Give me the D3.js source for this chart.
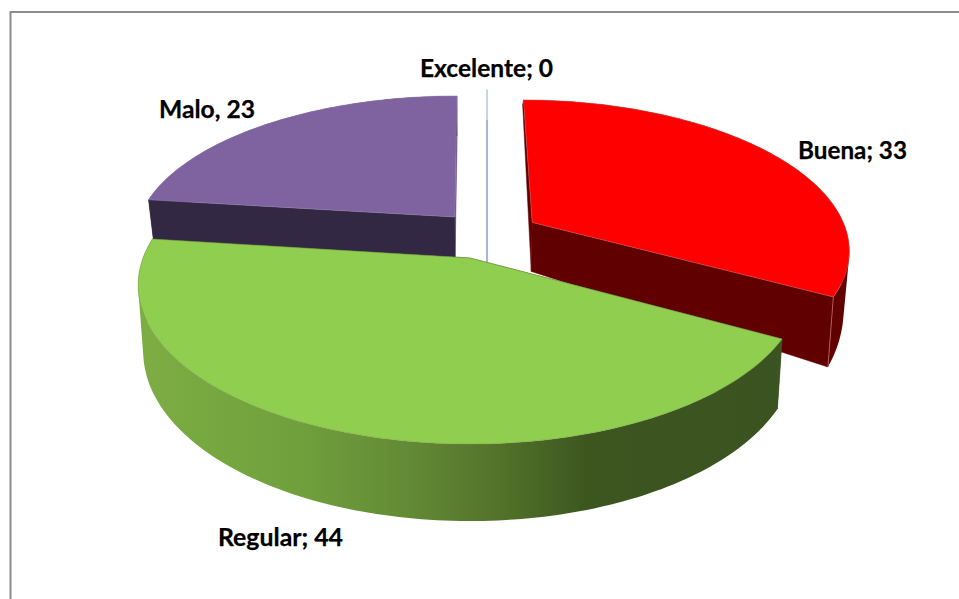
<!DOCTYPE html>
<html><head><meta charset="utf-8">
<style>html,body{margin:0;padding:0;background:#fff;overflow:hidden}svg{display:block}</style>
<script src="https://cdn.jsdelivr.net/npm/d3@7/dist/d3.min.js"></script>
</head><body>
<script>
// ---- data
const categories = ["Excelente","Buena","Regular","Malo"];
const values = [0,33,44,23];
const separators = ["; ","; ","; ",", "];

// ---- styles
const topColors = ["#a4b8d0","#ff0000","#8fce4f","#7f62a0"];
const wallColors = ["#a4b8d0","#610000","#3b5320","#332843"];
const sliverColors = ["#a4b8d0","#610000","#3b5320","#5f4a7e"];
const rimColors = ["#a4b8d0","#c06a6a","#7f9a4a","#9a8ab5"];

// ---- layout / projection (perspective view of a tilted disc)
const W=959,H=599;
const apexX=470, apexY=258, scaleX=327, scaleY=154.4, persp=0.17, shrink=0.985;
// per-slice displacement on the disc plane, width factor, and wall height (base + slope * depth on plane)
const offX=[0.064,0.2,0,-0.048], offY=[0.34,0.24,0,0.278];
const widthK=[1,0.99,1,1.01];
const wallBase=[70,59.5,63.5,40], wallSlope=[0,43.6,13.5,0];
const labelX=[420,798,218,159], labelY=[77,159,546,118], labelW=[133,109,125,96];

const svg=d3.select("body").append("svg").attr("width",W).attr("height",H);

const defs=svg.append("defs");
const grad=defs.append("linearGradient").attr("id","greenWall")
  .attr("gradientUnits","userSpaceOnUse").attr("x1",138).attr("x2",780).attr("y1",0).attr("y2",0);
[[0,"#7dad43"],[0.25,"#70a03c"],[0.42,"#638a36"],[0.56,"#527329"],[0.7,"#3d5620"],[1,"#3b5320"]]
  .forEach(s=>grad.append("stop").attr("offset",s[0]).attr("stop-color",s[1]));

// frame (only left and top edges fall inside the photo)
svg.append("path").attr("d",`M10.5,${H}V12H${W}`).attr("fill","none").attr("stroke","#8c8c8c").attr("stroke-width",2);

const pie=d3.pie().sort(null).value(d=>d)(values);

function project(i,X,Y){
  const wx=X+offX[i], wy=Y+offY[i], w=1+persp*wy;
  return [apexX+scaleX*widthK[i]*wx/w, apexY-scaleY*wy/w, wy];
}
function facePoint(i,a,r=1){ return project(i,r*Math.sin(a),r*Math.cos(a)); }
function low(p,i){
  return [apexX+(p[0]-apexX)*shrink, p[1]+wallBase[i]-wallSlope[i]*p[2]];
}
const line=d3.line();
function arcPts(i,a0,a1){
  const n=Math.max(2,Math.ceil(Math.abs(a1-a0)/0.02));
  return d3.range(n+1).map(k=>facePoint(i,a0+(a1-a0)*k/n));
}

const order=[0,3,1,2];
order.forEach(i=>{
  const s=pie[i], g=svg.append("g").attr("class","slice").datum(s);
  const apex=facePoint(i,0,0);
  if(s.endAngle-s.startAngle===0){
    // zero-valued slice: only a thin vertical sliver remains
    const t=facePoint(i,s.startAngle), lowY=low(apex,i)[1];
    g.append("path").attr("d",line([[t[0],t[1]],[t[0],t[1]+30]]))
      .attr("stroke","#c6d3e2").attr("stroke-width",2).attr("fill","none");
    g.append("path").attr("d",line([[t[0],t[1]+30],[t[0],lowY]]))
      .attr("stroke",topColors[i]).attr("stroke-width",2).attr("fill","none");
    return;
  }
  const arc=arcPts(i,s.startAngle,s.endAngle);
  const aLow=low(apex,i);
  const startP=facePoint(i,s.startAngle), endP=facePoint(i,s.endAngle);
  // radial walls: the one seen from the front is dark, the back one keeps a lighter sliver colour
  const startColor=i===3?wallColors[i]:sliverColors[i];
  const endColor=i===3?sliverColors[i]:wallColors[i];
  g.append("path").attr("d",line([[apex[0],apex[1]],[endP[0],endP[1]],low(endP,i),aLow])+"Z")
    .attr("fill",endColor).attr("stroke",endColor).attr("stroke-width",0.5);
  g.append("path").attr("d",line([[apex[0],apex[1]],[startP[0],startP[1]],low(startP,i),aLow])+"Z")
    .attr("fill",startColor).attr("stroke",startColor).attr("stroke-width",0.5);
  // outer wall: consistently wound strips in one path, so the fill is their seamless union
  const wallFill=i===2?"url(#greenWall)":wallColors[i];
  const stripPath=d3.pairs(arc).map(([a,b])=>{
    const q=[[a[0],a[1]],[b[0],b[1]],low(b,i),low(a,i)];
    if(d3.polygonArea(q)<0) q.reverse();
    return line(q)+"Z";
  }).join("");
  g.append("path").attr("d",stripPath).attr("fill",wallFill).attr("fill-rule","nonzero");
  // corner edge between walls
  if(i===1){
    g.append("path").attr("d",line([[endP[0],endP[1]],low(endP,i)]))
      .attr("stroke",rimColors[i]).attr("stroke-width",0.8).attr("fill","none");
  }
  // top face
  const face=[[apex[0],apex[1]]].concat(arc.map(p=>[p[0],p[1]]));
  g.append("path").attr("d",line(face)+"Z").attr("fill",topColors[i])
    .attr("stroke",rimColors[i]).attr("stroke-width",0.5);
});

svg.append("g").selectAll("text").data(categories).join("text")
  .attr("x",(d,i)=>labelX[i]).attr("y",(d,i)=>labelY[i])
  .attr("font-family","Lato, 'Open Sans', sans-serif").attr("font-weight",700)
  .attr("font-size",24.5).attr("fill","#000").attr("stroke","#000").attr("stroke-width",0.25)
  .attr("textLength",(d,i)=>labelW[i]).attr("lengthAdjust","spacingAndGlyphs")
  .text((d,i)=>d+separators[i]+values[i]);
</script>
</body></html>
